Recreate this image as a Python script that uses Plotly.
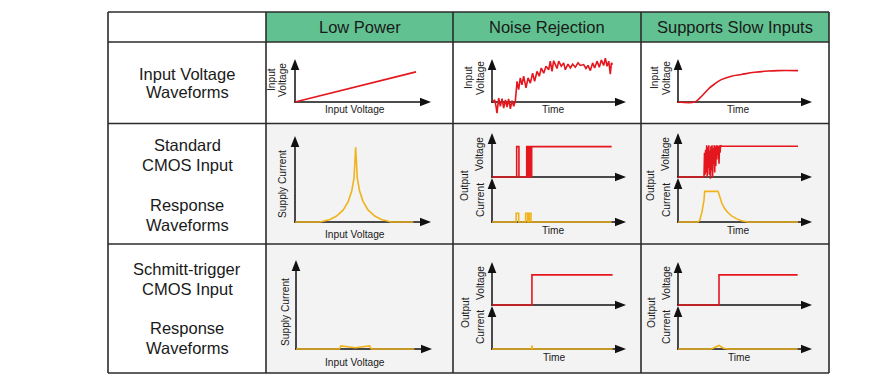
import plotly.graph_objects as go

# ---------------- data ----------------
headers = ["Low Power", "Noise Rejection", "Supports Slow Inputs"]
row_labels = [["Input Voltage", "Waveforms"],
              ["Standard", "CMOS Input", "Response", "Waveforms"],
              ["Schmitt-trigger", "CMOS Input", "Response", "Waveforms"]]

# Row 1: input voltage waveforms
lp_in_x = [0, 89]
lp_in_v = [0, 0.70]

nr_in_t = [0.5, 2.0, 3.0, 3.7, 5.0, 6.2, 7.5, 8.7, 10.0, 11.2,
           12.4, 13.7, 14.9, 16.2, 17.4, 18.7, 19.9, 21.1, 22.4, 23.6,
           25.4, 26.9, 28.6, 30.3, 31.8, 33.6, 35.3, 36.8, 38.6, 40.3,
           42.3, 43.5, 44.8, 46.0, 47.3, 48.5, 49.8, 51.7, 53.5, 54.7,
           56.7, 58.5, 60.2, 62.2, 64.2, 65.9, 68.4, 70.1, 71.6, 73.4,
           75.1, 76.6, 78.4, 80.1, 81.6, 83.3, 84.6, 85.8, 87.1, 88.3,
           89.1, 90.0]
nr_in_v = [0, 0.05, -0.10, -0.26, 0.09, -0.10, 0.08, -0.14, 0.05, -0.12,
           0.07, -0.16, 0.03, -0.10, 0.02, 0.48, 0.29, 0.56, 0.40, 0.60,
           0.33, 0.56, 0.44, 0.67, 0.48, 0.71, 0.60, 0.79, 0.67, 0.83,
           0.75, 0.95, 0.71, 0.96, 0.87, 0.78, 0.95, 0.83, 0.91, 0.75,
           0.88, 0.79, 0.88, 0.81, 0.91, 0.85, 0.87, 0.78, 0.85, 0.73,
           0.91, 0.79, 0.95, 0.81, 0.98, 0.85, 1.02, 0.83, 0.95, 0.65,
           0.91, 0.87]

ss_in_t = [0, 12.4, 16.2, 19.9, 23.6, 27.4, 32.3, 39.8, 47.3, 57.2, 67.2, 74.6, 89.6]
ss_in_v = [0, 0, 0.09, 0.21, 0.33, 0.42, 0.52, 0.60, 0.64, 0.69, 0.72, 0.73, 0.73]

# Row 2: standard CMOS input response
lp_std_x = [0, 18.4, 25.7, 30.6, 35.5, 39.2, 41.7, 43.4, 44.6, 45.8, 47.5, 50.0, 53.7, 58.6, 63.5, 70.8, 87.0]
lp_std_i = [0, 0, 0.03, 0.07, 0.14, 0.24, 0.36, 0.51, 0.87, 0.51, 0.36, 0.24, 0.14, 0.07, 0.03, 0, 0]

nr_std_tv = [0, 18.4, 20.1, 25.9, 26.5, 27.1, 27.7, 28.3, 28.9, 29.6, 89.3]
nr_std_v = [0, 0.69, 0, 0.69, 0, 0.69, 0, 0.69, 0, 0.69, 0.69]
nr_std_ti = [0, 18.0, 19.9, 25.1, 26.6, 27.8, 29.1, 89.3]
nr_std_i = [0, 0.21, 0, 0.21, 0, 0.21, 0, 0]

ss_std_tv = [0, 19.4, 19.8, 20.2, 20.6, 21.0, 21.4, 21.8, 22.2, 22.6,
             23.0, 23.4, 23.8, 24.2, 24.6, 25.0, 25.4, 25.8, 26.2, 26.6,
             27.0, 27.4, 27.8, 28.2, 28.6, 29.0, 29.4, 29.8, 30.2, 30.6,
             31.0, 31.4, 31.8, 32.3, 89.6]
ss_std_v = [0, 0, 0.55, 0.05, 0.62, 0.10, 0.72, 0.00, 0.68, 0.20,
            0.72, 0.05, 0.60, -0.04, 0.70, 0.15, 0.72, 0.00, 0.66, 0.30,
            0.72, 0.10, 0.70, 0.25, 0.72, 0.40, 0.72, 0.50, 0.70, 0.30,
            0.72, 0.55, 0.72, 0.70, 0.70]
ss_std_ti = [0, 14.9, 16.2, 17.9, 19.4, 19.9, 29.9, 31.1, 32.8, 34.8, 37.3, 40.3, 43.5, 47.3, 52.2, 89.6]
ss_std_i = [0, 0, 0.04, 0.24, 0.52, 0.73, 0.73, 0.60, 0.44, 0.32, 0.22, 0.14, 0.08, 0.03, 0, 0]

# Row 3: Schmitt-trigger CMOS input response
lp_st_x = [0, 31.9, 33.0, 43.6, 54.2, 55.3, 87.0]
lp_st_i = [0, 0, 0.035, 0.015, 0.035, 0, 0]

nr_st_tv = [0, 29.8, 90.0]
nr_st_v = [0, 0.70, 0.70]
nr_st_ti = [0, 29.4, 29.8, 30.2, 90.0]
nr_st_i = [0, 0, 0.085, 0, 0]

ss_st_tv = [0, 30.6, 89.3]
ss_st_v = [0, 0.70, 0.70]
ss_st_ti = [0, 24.9, 30.6, 34.0, 37.3, 89.3]
ss_st_i = [0, 0, 0.085, 0.02, 0, 0]

# ---------------- styling / layout helpers ----------------
OFF = 8  # page body margin
W, H = 894 - 2 * OFF, 385 - 2 * OFF
RED = "#e3171d"
YEL = "#f0b31c"
FONT = "Liberation Sans, Arial, sans-serif"
TXT = "#1a1a1a"


def px(x):
    return (x - OFF) / W


def py(y):
    return 1 - (y - OFF) / H


fig = go.Figure()
layout = {}
shapes = []
annotations = []

# cell backgrounds
shapes.append(dict(type="rect", xref="paper", yref="paper", x0=px(266), x1=px(829), y0=py(12), y1=py(42),
                   fillcolor="#61c190", line=dict(width=0), layer="below"))
shapes.append(dict(type="rect", xref="paper", yref="paper", x0=px(266), x1=px(829), y0=py(123.5), y1=py(373),
                   fillcolor="#f3f3f3", line=dict(width=0), layer="below"))

BORDER = dict(color="#2b2b2b", width=1.6)
for yy in [12, 42, 123.5, 244, 373]:
    shapes.append(dict(type="line", xref="paper", yref="paper", x0=px(108), x1=px(829), y0=py(yy), y1=py(yy),
                       line=BORDER, layer="above"))
for xx in [108, 266, 453, 641, 829]:
    shapes.append(dict(type="line", xref="paper", yref="paper", x0=px(xx), x1=px(xx), y0=py(12), y1=py(373),
                       line=BORDER, layer="above"))

AX = dict(color="#111111", width=1.5)
L, HW = 11, 4.3


def arrow_up(x, ytip):
    path = f"M {px(x)},{py(ytip)} L {px(x - HW)},{py(ytip + L)} L {px(x + HW)},{py(ytip + L)} Z"
    shapes.append(dict(type="path", xref="paper", yref="paper", path=path, fillcolor="#111111",
                       line=dict(width=0), layer="below"))


def arrow_right(xtip, y):
    path = f"M {px(xtip)},{py(y)} L {px(xtip - L)},{py(y - HW)} L {px(xtip - L)},{py(y + HW)} Z"
    shapes.append(dict(type="path", xref="paper", yref="paper", path=path, fillcolor="#111111",
                       line=dict(width=0), layer="below"))


def add_panel(idx, ox, tipx, base, top, traces, ytip=None):
    w = tipx - ox
    h = base - top
    pl, pr, pb, pt = 4, 6, 16, 6
    sx = "" if idx == 1 else str(idx)
    layout["xaxis" + sx] = dict(domain=[px(ox - pl), px(tipx + pr)], range=[-pl / w * 100, 100 + pr / w * 100],
                                visible=False, fixedrange=True, anchor="y" + sx)
    layout["yaxis" + sx] = dict(domain=[py(base + pb), py(top - pt)], range=[-pb / h, 1 + pt / h],
                                visible=False, fixedrange=True, anchor="x" + sx)
    # axes with arrowheads
    yt = top if ytip is None else ytip
    shapes.append(dict(type="line", xref="paper", yref="paper", x0=px(ox), x1=px(ox), y0=py(base + 0.7), y1=py(yt + L - 0.5),
                       line=AX, layer="below"))
    arrow_up(ox, yt)
    shapes.append(dict(type="line", xref="paper", yref="paper", x0=px(ox - 0.7), x1=px(tipx - L + 0.5), y0=py(base), y1=py(base),
                       line=AX, layer="below"))
    arrow_right(tipx, base)
    for (xs, ys, col, shp) in traces:
        fig.add_trace(go.Scatter(x=xs, y=ys, mode="lines", xaxis="x" + sx, yaxis="y" + sx,
                                 line=dict(color=col, width=1.6, shape=shp),
                                 hoverinfo="skip", showlegend=False))


# Low Power column
add_panel(1, 295, 431, 102, 59, [(lp_in_x, lp_in_v, RED, "linear")])
add_panel(4, 295, 431, 222, 136, [(lp_std_x, lp_std_i, YEL, "linear")])
add_panel(9, 296, 432, 349, 260, [(lp_st_x, lp_st_i, YEL, "linear")])
# Noise Rejection column
add_panel(2, 492, 626, 102, 59, [(nr_in_t, nr_in_v, RED, "linear")])
add_panel(5, 492, 626, 177, 133, [(nr_std_tv, nr_std_v, RED, "hv")])
add_panel(6, 492, 626, 222, 180, [(nr_std_ti, nr_std_i, YEL, "hv")], ytip=178)
add_panel(10, 492, 626, 305, 262, [(nr_st_tv, nr_st_v, RED, "hv")])
add_panel(11, 492, 626, 349, 308, [(nr_st_ti, nr_st_i, YEL, "linear")], ytip=306)
# Supports Slow Inputs column
add_panel(3, 678, 812, 102, 59, [(ss_in_t, ss_in_v, RED, "spline")])
add_panel(7, 678, 812, 177, 133, [(ss_std_tv, ss_std_v, RED, "linear")])
add_panel(8, 678, 812, 222, 180, [(ss_std_ti, ss_std_i, YEL, "linear")], ytip=178)
add_panel(12, 678, 812, 305, 262, [(ss_st_tv, ss_st_v, RED, "hv")])
add_panel(13, 678, 812, 349, 308, [(ss_st_ti, ss_st_i, YEL, "linear")], ytip=306)


def text(x, y, s, size, angle=0):
    annotations.append(dict(xref="paper", yref="paper", x=px(x), y=py(y), text=s, showarrow=False,
                            xanchor="center", yanchor="middle", textangle=angle,
                            font=dict(family=FONT, size=size, color=TXT)))


# headers
for s, cx in zip(headers, [359.5, 547, 735]):
    text(cx, 27, s, 16.5)

# row labels
for s, yy in zip(row_labels[0], [73.5, 92.5]):
    text(187, yy, s, 16.5)
for s, yy in zip(row_labels[1], [145, 165, 205, 224.5]):
    text(187, yy, s, 16.5)
for s, yy in zip(row_labels[2], [268.5, 289, 328, 348]):
    text(187, yy, s, 16.5)

SM = 10.2
# small axis labels - Low Power
text(272, 80, "Input", SM, -90)
text(283, 80, "Voltage", SM, -90)
text(355, 109.5, "Input Voltage", SM)
text(283, 184, "Supply Current", SM, -90)
text(355, 234, "Input Voltage", SM)
text(285, 312, "Supply Current", SM, -90)
text(355, 362, "Input Voltage", SM)
# Noise / Slow columns
for dx, tx in [(0, 553), (186, 738)]:
    text(468 + dx, 78, "Input", SM, -90)
    text(480 + dx, 78, "Voltage", SM, -90)
    text(tx, 109.5, "Time", SM)
    text(465 + dx, 186, "Output", SM, -90)
    text(480 + dx, 154, "Voltage", SM, -90)
    text(480 + dx, 200, "Current", SM, -90)
    text(tx, 230.5, "Time", SM)
    text(465 + dx, 313, "Output", SM, -90)
    text(480 + dx, 283, "Voltage", SM, -90)
    text(480 + dx, 327, "Current", SM, -90)
    text(tx + 1, 357.5, "Time", SM)

fig.update_layout(**layout)
fig.update_layout(width=W, height=H, margin=dict(l=0, r=0, t=0, b=0),
                  paper_bgcolor="white", plot_bgcolor="rgba(0,0,0,0)",
                  shapes=shapes, annotations=annotations, showlegend=False)

fig.write_html("out.html")
